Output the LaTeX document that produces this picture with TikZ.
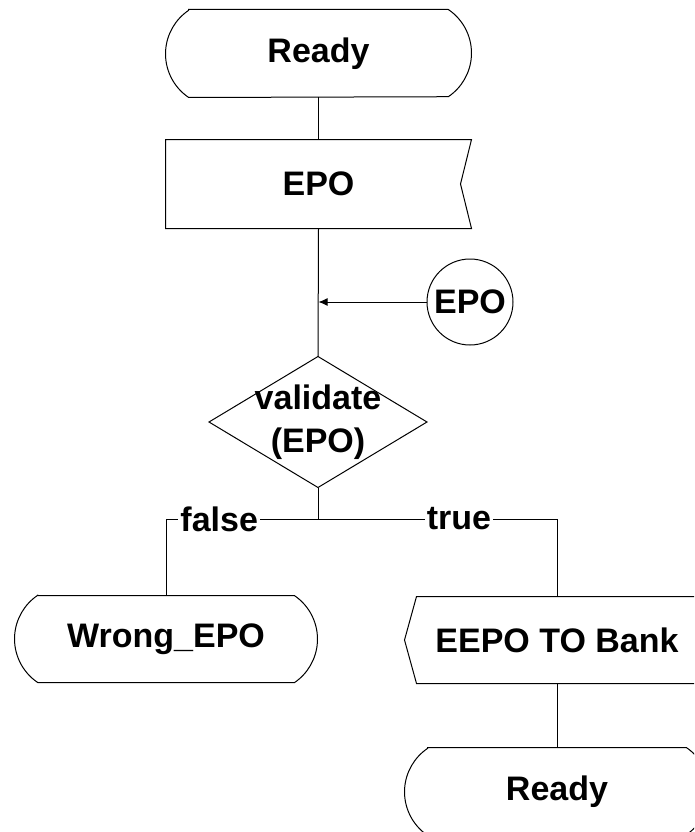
\documentclass[tikz,border=0pt]{standalone}
\usepackage{fontspec}
\setmainfont{Liberation Sans}
\usetikzlibrary{arrows.meta}
% SDL state symbol: flat top and bottom, circular arcs on the sides
\newcommand\stateframe[1]{%
  \draw ([xshift=23.2pt]#1.north west) -- ([xshift=-23.2pt]#1.north east)
    arc[start angle=56,end angle=-56,radius=52.6pt]
    -- ([xshift=23.2pt]#1.south west)
    arc[start angle=236,end angle=124,radius=52.6pt] -- cycle;}
\begin{document}
\begin{tikzpicture}[x=1pt,y=1pt,line width=1pt,
  box/.style={minimum width=305pt,minimum height=87pt,inner sep=0pt},
  txt/.style={font=\bfseries\fontsize{34}{43}\selectfont},
  lbl/.style={fill=white,inner xsep=2pt,inner ysep=1pt,font=\bfseries\fontsize{34}{43}\selectfont}]
\useasboundingbox (0,0) rectangle (694,-832);
\clip (0,0) rectangle (694,-832);

% nodes
\node[box,txt] (ready1) at (318.5,-53.5) {Ready};
\node[box,txt,minimum height=88pt] (epo) at (318.5,-184) {EPO};
\node[circle,draw,minimum size=86pt,inner sep=0pt,txt] (epoin) at (470,-302) {EPO};
\node[txt,minimum width=217pt,minimum height=130pt,inner sep=0pt,align=center] (dia) at (318,-422) {validate\\(EPO)};
\coordinate (split) at (318,-519);
\node[box,txt,minimum width=302pt,minimum height=86pt] (wrong) at (166,-639) {Wrong\_EPO};
\node[box,txt,minimum width=304pt,minimum height=86pt] (bank) at (557,-640) {EEPO TO Bank};
\node[box,txt,minimum width=304pt] (ready2) at (557,-791.5) {Ready};

% outlines
\stateframe{ready1}
\draw (epo.north west) -- (epo.north east) -- ([xshift=-11pt]epo.east)
  -- (epo.south east) -- (epo.south west) -- cycle;
\draw (dia.north) -- (dia.east) -- (dia.south) -- (dia.west) -- cycle;
\stateframe{wrong}
\draw ([xshift=12pt]bank.north west) -- (bank.north east) -- (bank.south east)
  -- ([xshift=12pt]bank.south west) -- (bank.west) -- cycle;
\stateframe{ready2}

% connectors
\draw (ready1.south) -- (epo.north);
\draw (epo.south) -- (dia.north);
\draw[-{Latex[length=9pt,width=8pt]}] (epoin.west) -- (epoin.west -| epo.south);
\draw (dia.south) -- (split);
\draw (split) -- node[lbl,pos=0.65]{false} (split -| wrong.north) -- (wrong.north);
\draw (split) -- node[lbl,pos=0.59]{true} (split -| bank.north) -- (bank.north);
\draw (bank.south) -- (ready2.north);
\end{tikzpicture}
\end{document}
